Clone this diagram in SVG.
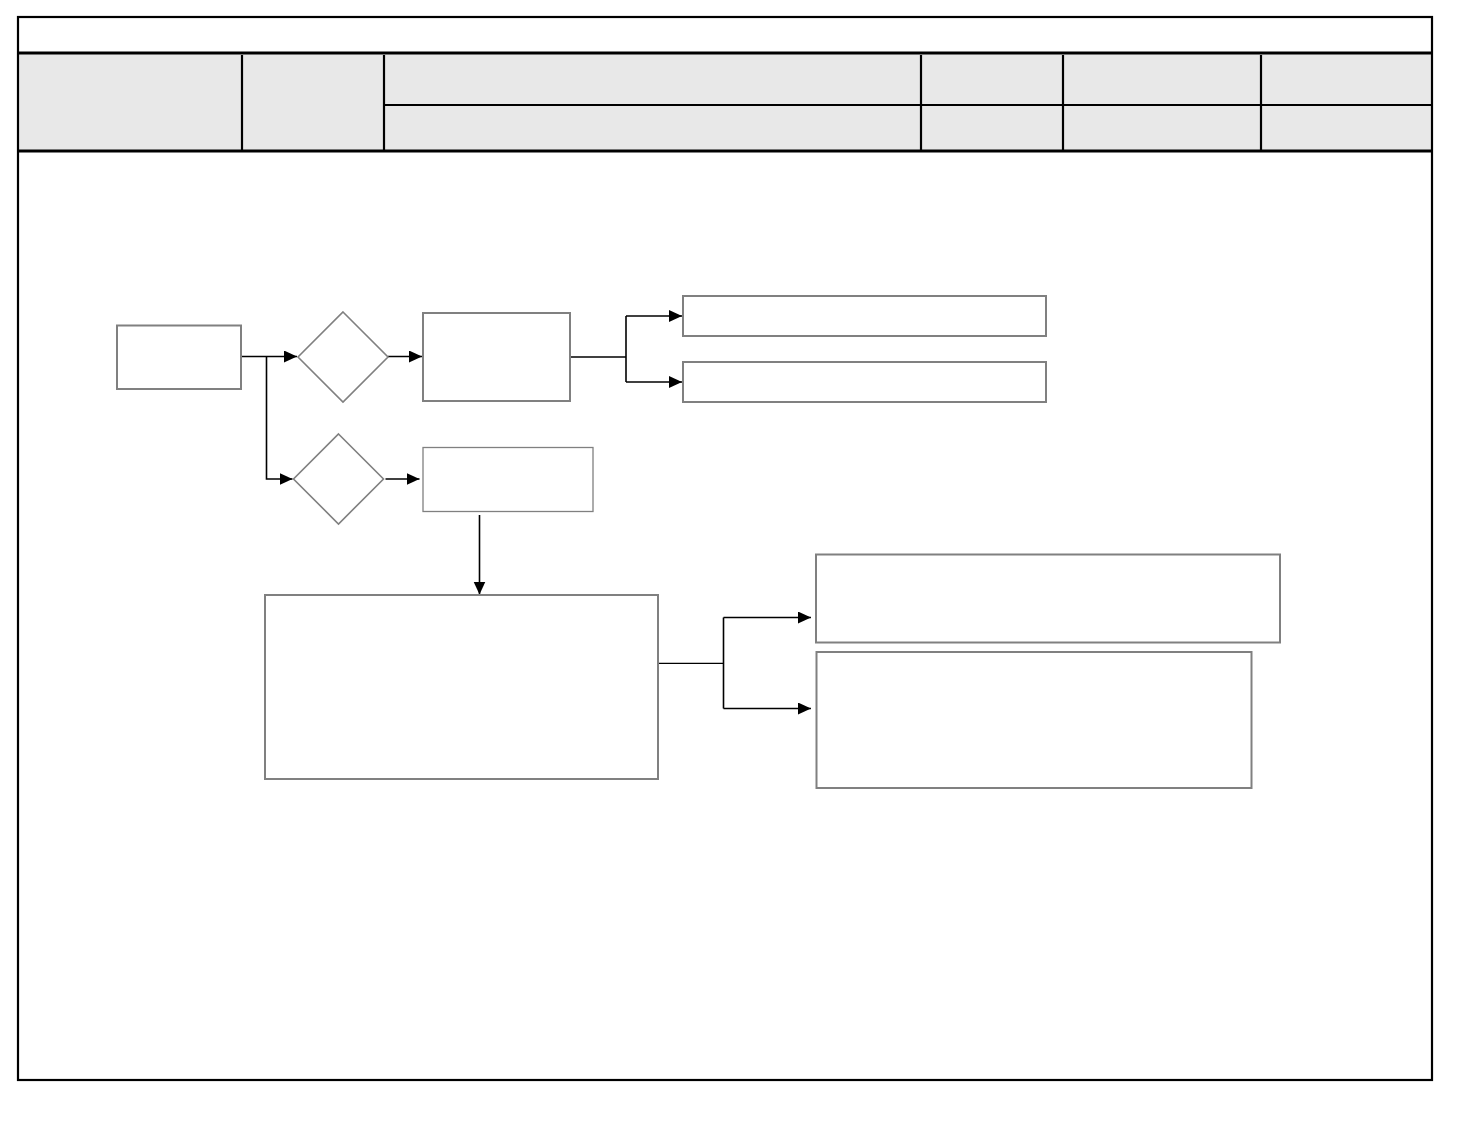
<svg xmlns="http://www.w3.org/2000/svg" width="1457" height="1145" viewBox="0 0 1457 1145">
<style>
.node{fill:#ffffff;stroke:#808080;stroke-width:2}
.thin{stroke-width:1.3}
.dia{fill:#ffffff;stroke:#808080;stroke-width:1.6}
.conn{fill:none;stroke:#000000;stroke-width:1.6}
.hline{stroke:#000000;stroke-width:3}
.vline{stroke:#000000;stroke-width:2.2}
</style>
<defs>
<marker id="arr" markerUnits="userSpaceOnUse" markerWidth="14" markerHeight="13" refX="13" refY="6" orient="auto">
<path d="M0,0 L13,6 L0,12 z" fill="#000000"/>
</marker>
</defs>
<rect width="1457" height="1145" fill="#ffffff"/>
<g id="frame">
<rect x="19" y="54" width="1412" height="96" fill="#e8e8e8"/>
<rect x="18" y="17" width="1414" height="1063" fill="none" stroke="#000000" stroke-width="2.2"/>
<line class="hline" x1="18" y1="53" x2="1431" y2="53"/>
<line class="hline" x1="18" y1="151" x2="1431" y2="151"/>
<line class="vline" x1="384" y1="105" x2="1432" y2="105"/>
<line class="vline" x1="242" y1="55" x2="242" y2="150"/>
<line class="vline" x1="384" y1="55" x2="384" y2="150"/>
<line class="vline" x1="921" y1="55" x2="921" y2="150"/>
<line class="vline" x1="1063" y1="55" x2="1063" y2="150"/>
<line class="vline" x1="1261" y1="55" x2="1261" y2="150"/>
</g>
<g id="connectors">
<polyline class="conn" points="241,356.5 297,356.5" marker-end="url(#arr)"/>
<polyline class="conn" points="266.5,356.5 266.5,479 292.5,479" marker-end="url(#arr)"/>
<polyline class="conn" points="388,356.5 422,356.5" marker-end="url(#arr)"/>
<polyline class="conn" points="385.5,479 419.5,479" marker-end="url(#arr)"/>
<polyline class="conn" points="570,357 626,357"/>
<polyline class="conn" points="626,316 626,382"/>
<polyline class="conn" points="626,316 682,316" marker-end="url(#arr)"/>
<polyline class="conn" points="626,382 682,382" marker-end="url(#arr)"/>
<polyline class="conn" points="479.5,515 479.5,594.5" marker-end="url(#arr)"/>
<polyline class="conn" style="stroke-width:1.2" points="656,663.3 723.5,663.3"/>
<polyline class="conn" points="723.5,617.5 723.5,708.5"/>
<polyline class="conn" points="723.5,617.5 811,617.5" marker-end="url(#arr)"/>
<polyline class="conn" points="723.5,708.5 811,708.5" marker-end="url(#arr)"/>
</g>
<g id="node-start"><rect class="node" x="117" y="325.5" width="124" height="63.5"/></g>
<g id="node-decision1"><polygon class="dia" points="343,312 388,357 343,402 298,357"/></g>
<g id="node-box2"><rect class="node" x="423" y="313" width="147" height="88"/></g>
<g id="node-decision2"><polygon class="dia" points="338.5,434 383.5,479 338.5,524 293.5,479"/></g>
<g id="node-box3"><rect class="node thin" x="423" y="447.5" width="170" height="64"/></g>
<g id="node-box4"><rect class="node" x="683" y="296" width="363" height="40"/></g>
<g id="node-box5"><rect class="node" x="683" y="362" width="363" height="40"/></g>
<g id="node-big"><rect class="node" x="265" y="595" width="393" height="184"/></g>
<g id="node-box6"><rect class="node" x="816" y="554.5" width="464" height="88"/></g>
<g id="node-box7"><rect class="node" x="816.5" y="652" width="435" height="136"/></g>
</svg>
